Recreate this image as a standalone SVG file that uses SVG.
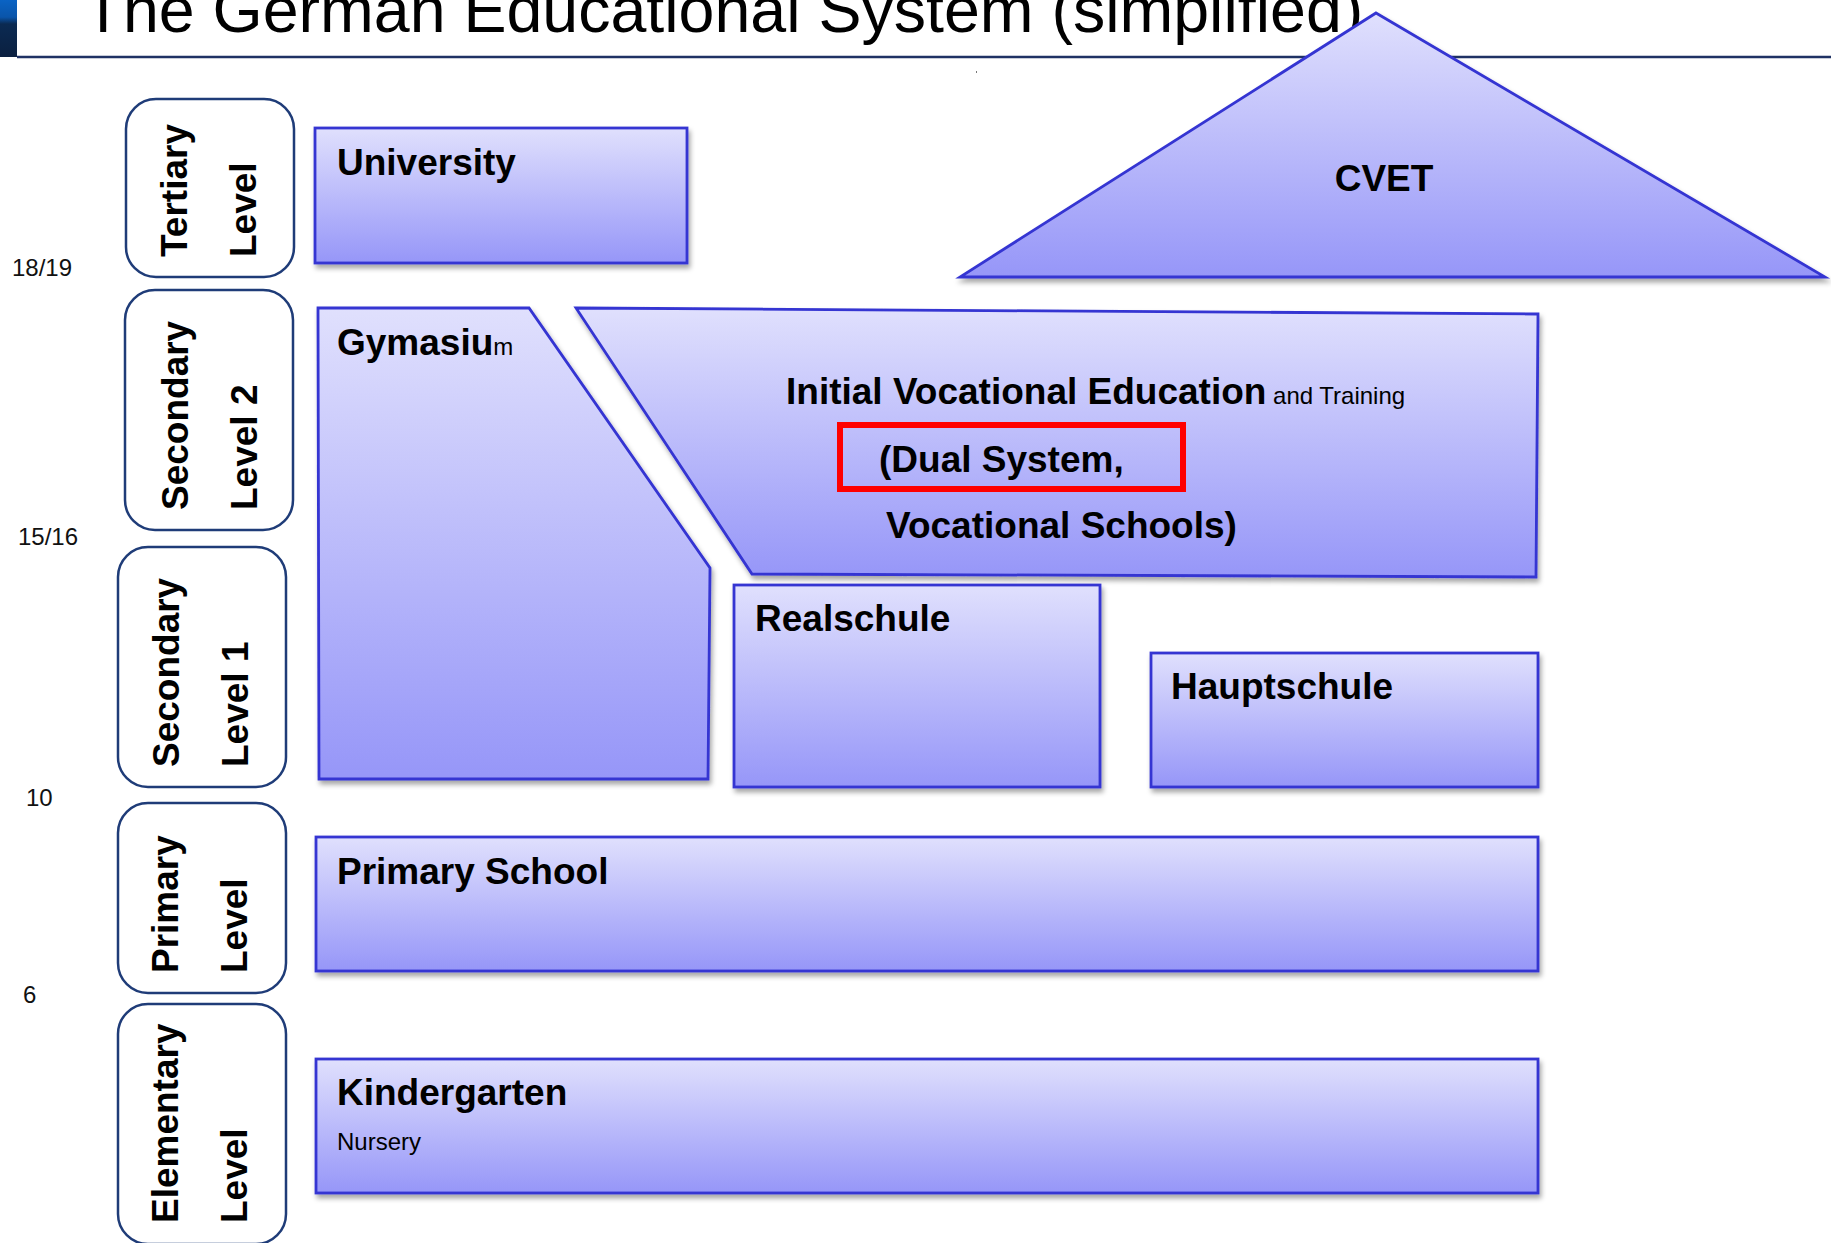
<svg xmlns="http://www.w3.org/2000/svg" width="1831" height="1243" viewBox="0 0 1831 1243">
<defs>
<linearGradient id="fill" x1="0" y1="0" x2="0" y2="1">
<stop offset="0" stop-color="#e0e0fd"/>
<stop offset="1" stop-color="#9696f8"/>
</linearGradient>
<linearGradient id="bar" x1="0" y1="0" x2="0" y2="1">
<stop offset="0" stop-color="#0a63c4"/>
<stop offset="0.3" stop-color="#0a55aa"/>
<stop offset="0.42" stop-color="#0b2a52"/>
<stop offset="1" stop-color="#0b2040"/>
</linearGradient>
<filter id="shadow" x="-5%" y="-5%" width="110%" height="115%">
<feDropShadow dx="2" dy="4" stdDeviation="2.5" flood-color="#000" flood-opacity="0.35"/>
</filter>
</defs>
<style>
.box{fill:url(#fill);stroke:#3434d2;stroke-width:2.8;filter:url(#shadow);stroke-linejoin:miter}
.lvl{fill:#fff;stroke:#1f3c78;stroke-width:2.5}
.t{font-family:"Liberation Sans",Arial,sans-serif;fill:#000}
.b{font-weight:bold;font-size:37px}
.s{font-weight:normal;font-size:24px}
.age{font-family:"Liberation Sans",Arial,sans-serif;font-size:24px;fill:#111}
</style>

<g id="header">
<rect x="0" y="0" width="17" height="57" fill="url(#bar)"/>
<line x1="17" y1="57" x2="1831" y2="57" stroke="#1f3264" stroke-width="2.5"/>
<text class="t" x="83.5" y="32" font-size="64.5">The German Educational System (simplified)</text>
<rect x="976" y="71" width="1" height="2" fill="#777"/>
</g>

<g id="ages">
<text class="age" x="12" y="276">18/19</text>
<text class="age" x="18" y="545">15/16</text>
<text class="age" x="26" y="806">10</text>
<text class="age" x="23" y="1003">6</text>
</g>

<g id="level-tertiary">
<rect class="lvl" x="126" y="99" width="168" height="178" rx="30"/>
<text class="t b" transform="translate(187,257) rotate(-90)">Tertiary</text>
<text class="t b" transform="translate(256,257) rotate(-90)">Level</text>
</g>
<g id="level-secondary2">
<rect class="lvl" x="125" y="290" width="168" height="240" rx="30"/>
<text class="t b" transform="translate(188,510) rotate(-90)">Secondary</text>
<text class="t b" transform="translate(257,510) rotate(-90)">Level 2</text>
</g>
<g id="level-secondary1">
<rect class="lvl" x="118" y="547" width="168" height="240" rx="30"/>
<text class="t b" transform="translate(179,767) rotate(-90)">Secondary</text>
<text class="t b" transform="translate(248,767) rotate(-90)">Level 1</text>
</g>
<g id="level-primary">
<rect class="lvl" x="118" y="803" width="168" height="190" rx="30"/>
<text class="t b" transform="translate(178,973) rotate(-90)">Primary</text>
<text class="t b" transform="translate(247,973) rotate(-90)">Level</text>
</g>
<g id="level-elementary">
<rect class="lvl" x="118" y="1004" width="168" height="240" rx="30"/>
<text class="t b" transform="translate(178,1223) rotate(-90)">Elementary</text>
<text class="t b" transform="translate(247,1223) rotate(-90)">Level</text>
</g>

<g id="university">
<rect class="box" x="315" y="128" width="372" height="135"/>
<text class="t b" x="337" y="175">University</text>
</g>

<g id="gymnasium">
<polygon class="box" points="318,308 529,308 710,568 708,779 319,779"/>
<text class="t b" x="337" y="355">Gymasiu<tspan class="s">m</tspan></text>
</g>

<g id="ivet">
<polygon class="box" points="576,308 1538,314 1536,577 752,574"/>
<text class="t b" x="786" y="404">Initial Vocational Education<tspan class="s"> and Training</tspan></text>
<rect x="840" y="425" width="343" height="64" fill="none" stroke="#ff0000" stroke-width="6"/>
<text class="t b" x="879" y="472">(Dual System,</text>
<text class="t b" x="886" y="538">Vocational Schools)</text>
</g>

<g id="realschule">
<rect class="box" x="734" y="585" width="366" height="202"/>
<text class="t b" x="755" y="631">Realschule</text>
</g>

<g id="hauptschule">
<rect class="box" x="1151" y="653" width="387" height="134"/>
<text class="t b" x="1171" y="699">Hauptschule</text>
</g>

<g id="primary-school">
<rect class="box" x="316" y="837" width="1222" height="134"/>
<text class="t b" x="337" y="884">Primary School</text>
</g>

<g id="kindergarten">
<rect class="box" x="316" y="1059" width="1222" height="134"/>
<text class="t b" x="337" y="1105">Kindergarten</text>
<text class="t s" x="337" y="1150">Nursery</text>
</g>

<g id="cvet">
<polygon class="box" points="1376,13 1825,277 960,277"/>
<text class="t b" x="1384" y="191" text-anchor="middle">CVET</text>
</g>

<g id="connectors"></g>
</svg>
